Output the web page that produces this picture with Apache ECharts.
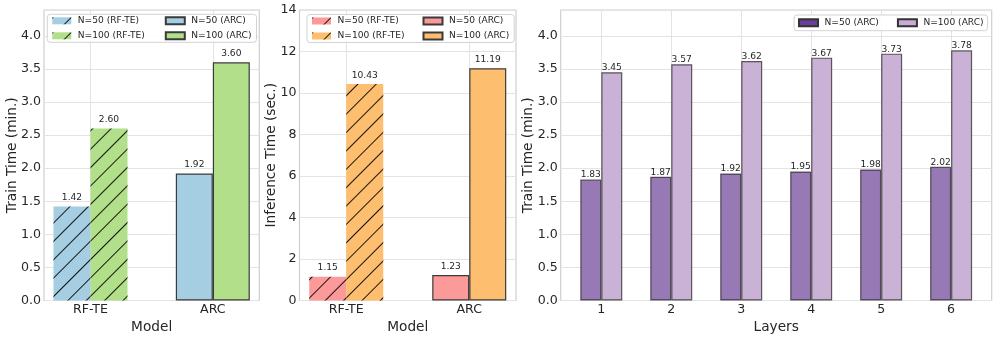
<!DOCTYPE html>
<html>
<head>
<meta charset="utf-8">
<script src="https://cdn.jsdelivr.net/npm/echarts@6/dist/echarts.min.js"></script>
<style>
  html, body { margin: 0; padding: 0; background: #fff; }
  #chart { width: 997px; height: 337px; }
</style>
</head>
<body>
<div id="chart"></div>
<script>
// data
const models = ['RF-TE', 'ARC'];
const trainN50 = [1.42, 1.92];
const trainN100 = [2.60, 3.60];
const inferN50 = [1.15, 1.23];
const inferN100 = [10.43, 11.19];
const layers = [1, 2, 3, 4, 5, 6];
const layerN50 = [1.83, 1.87, 1.92, 1.95, 1.98, 2.02];
const layerN100 = [3.45, 3.57, 3.62, 3.67, 3.73, 3.78];

const FONT = 'DejaVu Sans';
const TXT = '#262626';
const GRIDLINE = '#e3e3e3';
const TICK_FS = 12.6;
const TITLE_FS = 13.7;
const SMALL_FS = 9.1;

const hatch = {
  symbol: 'rect',
  dashArrayX: [1, 0],
  dashArrayY: [1, 12],
  rotation: -Math.PI / 4,
  color: 'rgba(0,0,0,0.9)'
};

function valueLabel(dist) {
  return {
    show: true, position: 'top', distance: dist,
    fontFamily: FONT, fontSize: SMALL_FS, color: TXT,
    formatter: p => p.value[1].toFixed(2)
  };
}

// one bar series at category index i
function modelBar(name, xi, yi, i, v, color, hatched) {
  return {
    type: 'bar', name: name, xAxisIndex: xi, yAxisIndex: yi,
    barWidth: 37, barGap: '0%',
    data: [[i, v]],
    itemStyle: hatched
      ? { color: color, decal: hatch, borderWidth: 0 }
      : { color: color, borderColor: '#3a3a3a', borderWidth: 1.2 },
    label: valueLabel(4)
  };
}

function xModel(gi, show) {
  return {
    type: 'value', gridIndex: gi, min: -0.38, max: 1.38, show: show,
    name: 'Model', nameLocation: 'middle', nameGap: 19.5, nameMoveOverlap: false,
    nameTextStyle: { fontFamily: FONT, fontSize: TITLE_FS, color: TXT },
    axisLine: { show: false },
    axisTick: { show: false, customValues: [0, 1] },
    axisLabel: {
      customValues: [0, 1], margin: 3,
      fontFamily: FONT, fontSize: TICK_FS, color: TXT,
      formatter: v => models[Math.round(v)]
    },
    splitLine: { show: true, lineStyle: { color: GRIDLINE, width: 1 } }
  };
}

function yAxis(gi, max, interval, name, gap, digits) {
  return {
    type: 'value', gridIndex: gi, min: 0, max: max, interval: interval,
    name: name, nameLocation: 'middle', nameGap: gap, nameMoveOverlap: false,
    nameTextStyle: { fontFamily: FONT, fontSize: TITLE_FS, color: TXT },
    axisLine: { show: false }, axisTick: { show: false },
    axisLabel: {
      margin: 3, fontFamily: FONT, fontSize: TICK_FS, color: TXT,
      showMaxLabel: digits === 0,
      formatter: v => v.toFixed(digits)
    },
    splitLine: { show: true, lineStyle: { color: GRIDLINE, width: 1 } }
  };
}

function legendBox(left, top, items) {
  return {
    left: left, top: top, orient: 'vertical', height: 30,
    padding: [1, 5, 1, 5], itemGap: 4,
    itemWidth: 19, itemHeight: 7, icon: 'rect',
    selectedMode: false,
    backgroundColor: 'rgba(255,255,255,0.85)',
    borderColor: '#d3d3d3', borderWidth: 1, borderRadius: 3,
    textStyle: { fontFamily: FONT, fontSize: SMALL_FS, color: TXT, lineHeight: 11, padding: [0, 0, 0, 1.5] },
    formatter: n => n.trim(),
    data: items
  };
}

const gridBase = {
  top: 10, height: 290.5, show: true, outerBoundsMode: 'none', containLabel: false,
  borderColor: '#cfcfcf', borderWidth: 1.2, backgroundColor: '#fff'
};

const option = {
  animation: false,
  backgroundColor: '#fff',
  grid: [
    Object.assign({ left: 44, width: 215.3 }, gridBase),
    Object.assign({ left: 299.5, width: 216.5 }, gridBase),
    Object.assign({ left: 560.7, width: 431 }, gridBase)
  ],
  xAxis: [
    xModel(0, true), xModel(0, false),
    xModel(1, true), xModel(1, false),
    {
      type: 'value', gridIndex: 2, min: 0.42, max: 6.58,
      name: 'Layers', nameLocation: 'middle', nameGap: 19.5, nameMoveOverlap: false,
      nameTextStyle: { fontFamily: FONT, fontSize: TITLE_FS, color: TXT },
      axisLine: { show: false },
      axisTick: { show: false, customValues: layers },
      axisLabel: {
        customValues: layers, margin: 3,
        fontFamily: FONT, fontSize: TICK_FS, color: TXT,
        formatter: v => String(v)
      },
      splitLine: { show: true, lineStyle: { color: GRIDLINE, width: 1 } }
    }
  ],
  yAxis: [
    yAxis(0, 4.39, 0.5, 'Train Time (min.)', 25, 1),
    yAxis(1, 14, 2, 'Inference Time (sec.)', 21, 0),
    yAxis(2, 4.39, 0.5, 'Train Time (min.)', 25.5, 1)
  ],
  legend: [
    legendBox(47.3, 14.3, [
      { name: 'N=50 (RF-TE)', textStyle: { width: 84 } },
      { name: 'N=100 (RF-TE)', textStyle: { width: 84 } },
      { name: 'N=50 (ARC)' },
      { name: 'N=100 (ARC)' }
    ]),
    legendBox(307, 14.5, [
      { name: 'N=50 (RF-TE) ', textStyle: { width: 82 } },
      { name: 'N=100 (RF-TE) ', textStyle: { width: 82 } },
      { name: 'N=50 (ARC) ' },
      { name: 'N=100 (ARC) ' }
    ]),
    {
      left: 794, top: 15, orient: 'horizontal',
      padding: [2, 4, 2, 4], itemGap: 18,
      itemWidth: 19, itemHeight: 7, icon: 'rect',
      selectedMode: false,
      backgroundColor: 'rgba(255,255,255,0.85)',
      borderColor: '#d3d3d3', borderWidth: 1, borderRadius: 3,
      textStyle: { fontFamily: FONT, fontSize: SMALL_FS, color: TXT, lineHeight: 11.7, padding: [0, 0, 0, 1.5] },
      formatter: n => n.trim(),
      data: [
        { name: 'N=50 (ARC)  ', itemStyle: { color: '#6a3d9a', borderColor: '#333' } },
        { name: 'N=100 (ARC)  ', itemStyle: { color: '#c6acd6', borderColor: '#333' } }
      ]
    }
  ],
  series: [
    // left panel: training time
    modelBar('N=50 (RF-TE)', 0, 0, 0, trainN50[0], '#a6cee3', true),
    modelBar('N=100 (RF-TE)', 0, 0, 0, trainN100[0], '#b2df8a', true),
    modelBar('N=50 (ARC)', 1, 0, 1, trainN50[1], '#a6cee3', false),
    modelBar('N=100 (ARC)', 1, 0, 1, trainN100[1], '#b2df8a', false),
    // middle panel: inference time
    modelBar('N=50 (RF-TE) ', 2, 1, 0, inferN50[0], '#fb9a99', true),
    modelBar('N=100 (RF-TE) ', 2, 1, 0, inferN100[0], '#fdbf6f', true),
    modelBar('N=50 (ARC) ', 3, 1, 1, inferN50[1], '#fb9a99', false),
    modelBar('N=100 (ARC) ', 3, 1, 1, inferN100[1], '#fdbf6f', false),
    // right panel: layers
    {
      type: 'bar', name: 'N=50 (ARC)  ', xAxisIndex: 4, yAxisIndex: 2,
      barWidth: 21, barGap: '0%',
      data: layers.map((l, i) => [l, layerN50[i]]),
      itemStyle: { color: '#9779b5', borderColor: 'rgba(30,30,30,0.7)', borderWidth: 1.2 },
      label: valueLabel(0)
    },
    {
      type: 'bar', name: 'N=100 (ARC)  ', xAxisIndex: 4, yAxisIndex: 2,
      barWidth: 21, barGap: '0%',
      data: layers.map((l, i) => [l, layerN100[i]]),
      itemStyle: { color: '#cab2d6', borderColor: 'rgba(30,30,30,0.7)', borderWidth: 1.2 },
      label: valueLabel(0)
    }
  ]
};

const myChart = echarts.init(document.getElementById('chart'));
myChart.setOption(option);
</script>
</body>
</html>
